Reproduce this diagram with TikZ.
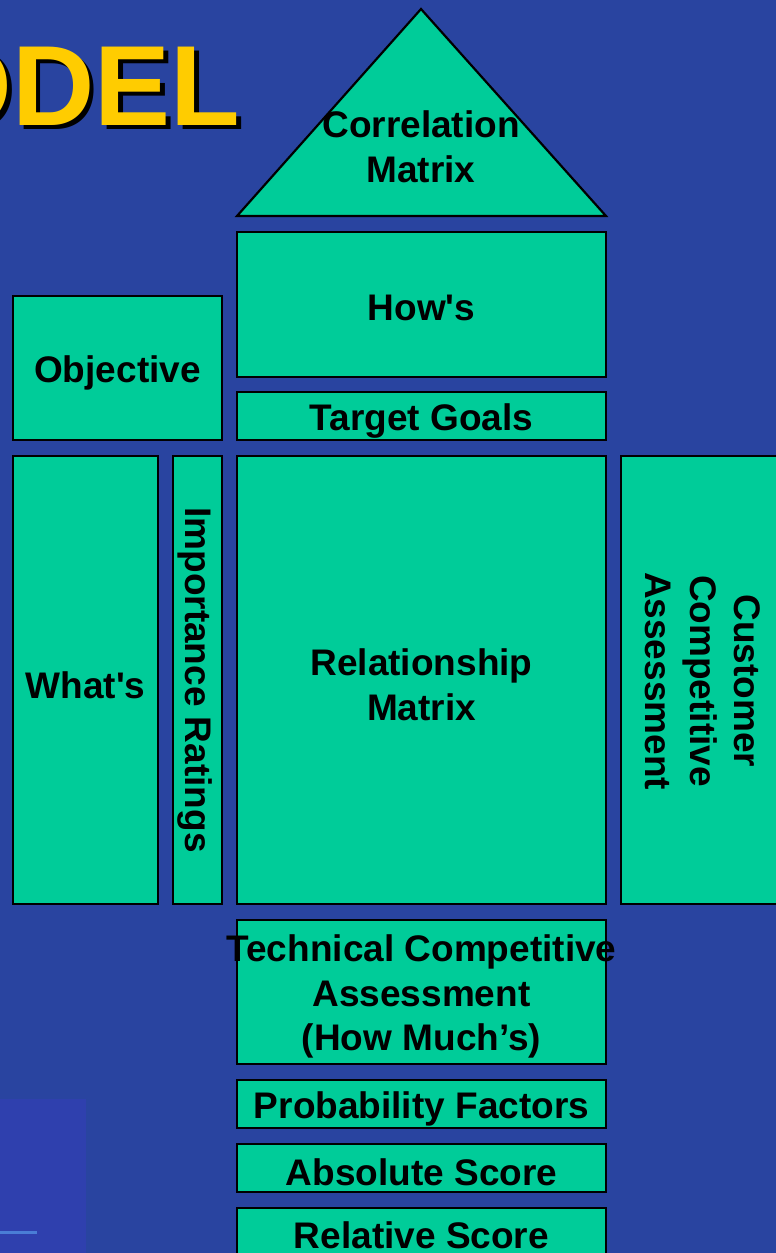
\documentclass[tikz,border=0pt]{standalone}
\usepackage{fontspec}
\setmainfont{Liberation Sans}
\begin{document}
\begin{tikzpicture}[x=1pt,y=-1pt,
  box/.style={draw=black,line width=2.2pt,fill=qfdgreen,inner sep=0pt},
  lbl/.style={font=\fontsize{37}{44.5}\selectfont\bfseries,align=center,text=black,inner sep=0pt},
  title/.style={font=\fontsize{114}{114}\selectfont\bfseries,inner sep=0pt,anchor=base east}]
\definecolor{slideblue}{HTML}{2944A0}
\definecolor{panelblue}{HTML}{2F40AE}
\definecolor{qfdgreen}{HTML}{00CC99}
\definecolor{titleyellow}{HTML}{FFCC00}
\useasboundingbox (0,0) rectangle (776,1253);
\clip (0,0) rectangle (776,1253);
\fill[slideblue] (0,0) rectangle (776,1253);
% faint panel in the lower left corner
\fill[panelblue] (0,1099) rectangle (86,1253);
\draw[line width=3pt,color=blue!45!cyan!60!white,opacity=0.5] (0,1232) -- (37,1232);
% title (tail of the heading)
\node[title,text=black] (titleshadow) at (245,129.5) {ODEL};
\node[title,text=titleyellow] (title) at (240.5,125) {ODEL};
% roof: correlation matrix
\coordinate (apex) at (421,9);
\coordinate (roofL) at (237,216);
\coordinate (roofR) at (606,216);
\filldraw[fill=qfdgreen,draw=black,line width=2.2pt,line join=miter] (apex) -- (roofR) -- (roofL) -- cycle;
\node[lbl] (corr) at (421,147) {Correlation\\Matrix};
% upper blocks
\node[box,minimum width=369pt,minimum height=145pt] (hows) at (421.5,304.5) {};
\node[lbl] at (421.5,308) {How\textquotesingle s};
\node[box,minimum width=369pt,minimum height=48pt] (target) at (421.5,416) {};
\node[lbl] at (421.5,421) {Target Goals};
\node[box,minimum width=209pt,minimum height=144pt] (objective) at (117.5,368) {};
\node[lbl] at (117.5,372.5) {Objective};
% middle row
\node[box,minimum width=145pt,minimum height=448pt] (whats) at (85.5,680) {};
\node[lbl] at (85.5,685.5) {What\textquotesingle s};
\node[box,minimum width=49pt,minimum height=448pt] (importance) at (197.5,680) {};
\node[lbl,rotate=-90] at (195,680) {Importance Ratings};
\node[box,minimum width=369pt,minimum height=448pt] (relation) at (421.5,680) {};
\node[lbl] at (421.5,685) {Relationship\\Matrix};
\node[box,minimum width=180pt,minimum height=448pt] (customer) at (711,680) {};
\node[lbl,rotate=-90] at (703,681) {Customer\\Competitive\\Assessment};
% lower blocks
\node[box,minimum width=369pt,minimum height=144pt] (technical) at (421.5,992) {};
\node[lbl] at (421.5,996.5) {Technical Competitive\\Assessment\\(How Much’s)};
\node[box,minimum width=369pt,minimum height=48pt] (probability) at (421.5,1104) {};
\node[lbl] at (421.5,1108.5) {Probability Factors};
\node[box,minimum width=369pt,minimum height=48pt] (absolute) at (421.5,1168) {};
\node[lbl] at (421.5,1172.5) {Absolute Score};
\node[box,minimum width=369pt,minimum height=60pt] (relative) at (421.5,1238) {};
\node[lbl] at (421.5,1235) {Relative Score};
\end{tikzpicture}
\end{document}
